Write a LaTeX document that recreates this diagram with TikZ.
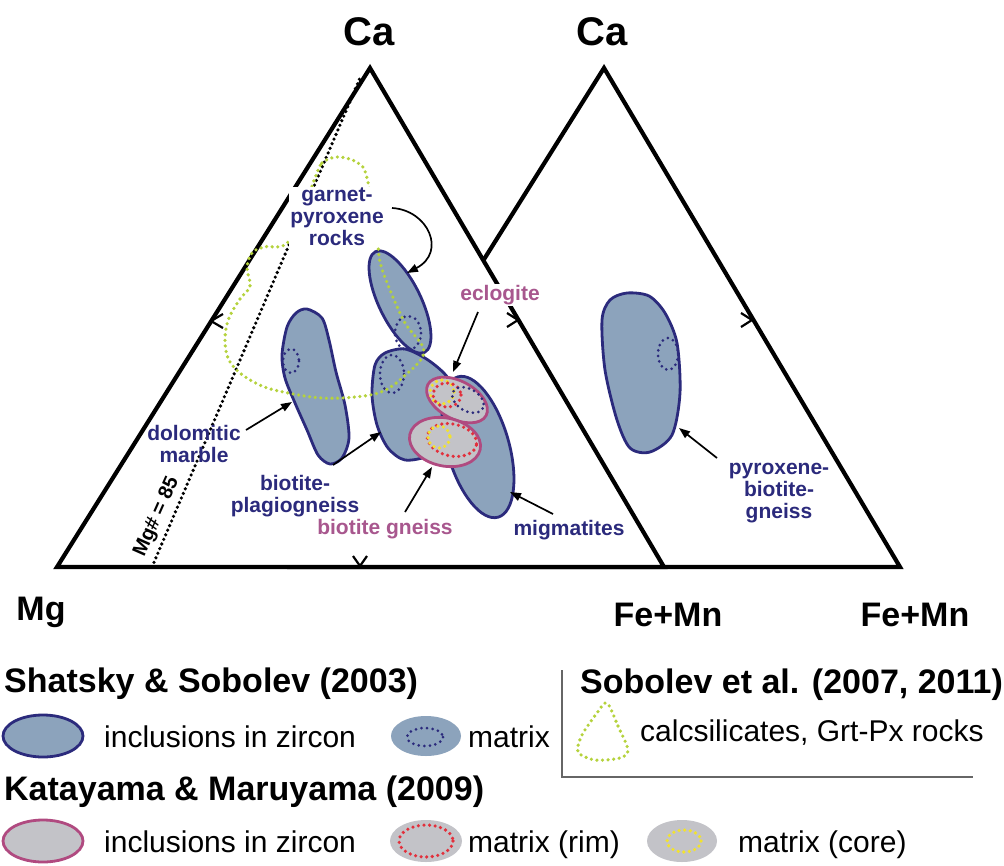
\documentclass[tikz,border=0pt]{standalone}
\usepackage{fontspec}
\setmainfont{Liberation Sans}
\usepackage{tikz}
\usetikzlibrary{arrows.meta}
\definecolor{inkblue}{HTML}{2B2A7C}
\definecolor{rockfill}{HTML}{8CA3BC}
\definecolor{grayfill}{HTML}{C3C3C8}
\definecolor{pinkline}{HTML}{B04A80}
\definecolor{pinktext}{HTML}{A8578E}
\definecolor{calcgreen}{HTML}{B5D23C}
\definecolor{rimred}{HTML}{E2303C}
\definecolor{coreyellow}{HTML}{F2E22E}
\begin{document}
\begin{tikzpicture}[x=1pt,y=-1pt,
		side/.style={line width=4.2pt,line join=miter},
		tick/.style={line width=2.2pt},
		zircon/.style={draw=inkblue,fill=rockfill,line width=2.8pt},
		kzircon/.style={draw=pinkline,fill=grayfill,line width=2.8pt},
		dots/.style={line width=3.6pt,line cap=round,dash pattern=on 0pt off 5.6pt},
		lab/.style={font=\fontsize{21}{22}\selectfont\bfseries,text=inkblue,align=center,inner sep=1pt},
		plab/.style={lab,text=pinktext},
		pointer/.style={-{Triangle[length=11pt,width=8pt]},line width=1.7pt},
		apex/.style={font=\fontsize{34}{36}\selectfont\bfseries,anchor=base},
		head/.style={font=\fontsize{34}{36}\selectfont\bfseries,anchor=base west,inner sep=0pt},
		item/.style={font=\fontsize{30}{32}\selectfont,anchor=base west,inner sep=0pt}]
	\useasboundingbox (0,0) rectangle (1004,865);
	\fill[white] (0,0) rectangle (1004,865);
	\draw[side,fill=white] (291,567) -- (604,68) -- (900,567) -- cycle;
	\draw[side,fill=white] (57,567) -- (370,68) -- (664,567) -- cycle;
	\draw[tick] (223,314) -- (211,321) -- (223,328);
	\draw[tick] (507,313) -- (518,320) -- (507,327);
	\draw[tick] (353,556) -- (360,566) -- (367,556);
	\draw[tick] (741,313) -- (752,320) -- (741,327);
	\draw[dots,dash pattern=on 0pt off 5pt] (152,567) -- (360,78);
	\draw[zircon] plot[smooth cycle] coordinates {(307,309) (322,318) (329,340) (336,372) (345,405) (349,438) (342,458) (330,464) (318,455) (307,430) (295,403) (285,378) (282,355) (287,327) (296,313)};
	\draw[zircon] plot[smooth cycle] coordinates {(385,353) (405,349) (428,360) (448,378) (458,405) (452,435) (430,455) (405,460) (388,448) (377,425) (372,395) (375,365)};
	\draw[zircon] (400,302) ellipse [x radius=56,y radius=21,rotate=-64];
	\draw[zircon] (478,447) ellipse [x radius=73,y radius=31,rotate=-74];
	\draw[zircon] plot[smooth cycle] coordinates {(627,293) (649,296) (665,313) (677,343) (680,393) (672,435) (650,452) (630,448) (617,420) (605,370) (602,320) (610,300)};
	\draw[dots,inkblue,line width=3pt] (291,361) ellipse [x radius=8,y radius=12];
	\draw[dots,inkblue,line width=3pt] (408,333) ellipse [x radius=13,y radius=17];
	\draw[dots,inkblue,line width=3pt] (392,374) ellipse [x radius=12,y radius=19];
	\draw[dots,inkblue,line width=3pt] (668,354) ellipse [x radius=10,y radius=16];
	\draw[kzircon] (457,400) ellipse [x radius=33,y radius=19,rotate=-28];
	\draw[kzircon] (445,442) ellipse [x radius=36,y radius=24,rotate=-12];
	\draw[dots,coreyellow] (442,392) circle [radius=12];
	\draw[dots,rimred] (447,395) ellipse [x radius=14,y radius=12];
	\draw[dots,inkblue,line width=3pt] (468,400) ellipse [x radius=17,y radius=11,rotate=-30];
	\draw[dots,rimred] (452,440) ellipse [x radius=25,y radius=16,rotate=-12];
	\draw[dots,coreyellow] (439,437) circle [radius=11];
	\draw[dots,calcgreen] plot[smooth cycle,tension=0.6] coordinates {(315,178) (322,163) (338,157) (358,163) (367,178) (377,237) (380,262) (390,290) (405,323) (424,352) (402,378) (381,392) (355,397) (322,398) (288,393) (262,386) (240,373) (228,358) (225,338) (229,318) (240,299) (250,286) (247,268) (252,253) (264,247) (290,240)};
	\node[lab,fill=white] (garnet) at (337,217) {garnet-\\pyroxene\\rocks};
	\node[plab,fill=white] (eclo) at (500,295) {eclogite};
	\node[lab] (dolo) at (194,444) {dolomitic\\marble};
	\node[lab] (plagio) at (295,496) {biotite-\\plagiogneiss};
	\node[plab] (bgneiss) at (385,529) {biotite gneiss};
	\node[lab] (migma) at (569,530) {migmatites};
	\node[lab] (pbg) at (779,493) {pyroxene-\\biotite-\\gneiss};
	\node[font=\fontsize{20}{20}\selectfont\bfseries,rotate=66,inner sep=0pt] (mgnum) at (157,517) {Mg\# = 85};
	\coordinate (garnet-s) at (392,208);
	\coordinate (garnet-t) at (407,273);
	\coordinate (eclo-s) at (478,312);
	\coordinate (eclo-t) at (453,372);
	\coordinate (dolo-s) at (246,430);
	\coordinate (dolo-t) at (292,402);
	\coordinate (plagio-s) at (333,465);
	\coordinate (plagio-t) at (381,432);
	\coordinate (bgneiss-s) at (405,512);
	\coordinate (bgneiss-t) at (432,467);
	\coordinate (migma-s) at (553,514);
	\coordinate (migma-t) at (510,492);
	\coordinate (pbg-s) at (717,458);
	\coordinate (pbg-t) at (679,428);
	\draw[pointer] (garnet-s) .. controls (428,210) and (447,252) .. (garnet-t);
	\draw[pointer] (eclo-s) -- (eclo-t);
	\draw[pointer] (dolo-s) -- (dolo-t);
	\draw[pointer] (plagio-s) -- (plagio-t);
	\draw[pointer] (bgneiss-s) -- (bgneiss-t);
	\draw[pointer] (migma-s) -- (migma-t);
	\draw[pointer] (pbg-s) -- (pbg-t);
	\node[apex,font=\fontsize{40}{42}\selectfont\bfseries] (ca1) at (369,45) {Ca};
	\node[apex,font=\fontsize{40}{42}\selectfont\bfseries] (ca2) at (602,45) {Ca};
	\node[apex] (mg) at (41,620) {Mg};
	\node[apex] (fm1) at (668,626) {Fe+Mn};
	\node[apex] (fm2) at (915,626) {Fe+Mn};
	\node[head] (ss) at (4,692) {Shatsky \& Sobolev (2003)};
	\node[head] (km) at (4,800) {Katayama \& Maruyama (2009)};
	\node[head] (sob) at (580,693) {Sobolev et al. (2007, 2011)};
	\draw[zircon] (43,736) ellipse [x radius=40,y radius=21];
	\node[item] (incl1) at (104,747) {inclusions in zircon};
	\fill[rockfill] (426,736) ellipse [x radius=35,y radius=20];
	\draw[dots,inkblue,line width=3pt] (425,737) ellipse [x radius=18,y radius=9];
	\node[item] (mat1) at (468,747) {matrix};
	\draw[gray!80!black,line width=1.8pt] (562,670) -- (562,777) -- (973,777);
	\draw[dots,calcgreen] plot[smooth cycle] coordinates {(607,703) (618,726) (628,750) (620,758) (595,760) (578,752) (582,735) (597,713)};
	\node[item] (calc) at (640,741) {calcsilicates, Grt-Px rocks};
	\draw[kzircon] (43,841) ellipse [x radius=40,y radius=21];
	\node[item] (incl2) at (104,852) {inclusions in zircon};
	\fill[grayfill] (426,841) ellipse [x radius=36,y radius=21];
	\draw[dots,rimred] (426,841) ellipse [x radius=27,y radius=16];
	\node[item] (rim) at (468,852) {matrix (rim)};
	\fill[grayfill] (682,841) ellipse [x radius=35,y radius=21];
	\draw[dots,coreyellow] (684,841) ellipse [x radius=17,y radius=11];
	\node[item] (core) at (738,852) {matrix (core)};
\end{tikzpicture}
\end{document}
